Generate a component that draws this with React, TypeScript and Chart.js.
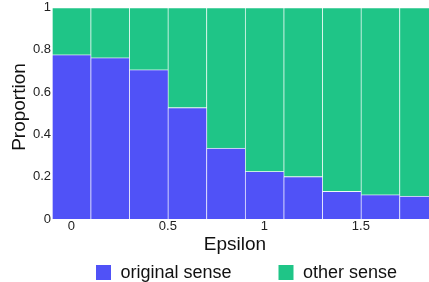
import React, { useEffect, useRef } from "react";
import { Chart, registerables } from "chart.js";

Chart.register(...registerables);

const epsilonValues = [0, 0.2, 0.4, 0.6, 0.8, 1.0, 1.2, 1.4, 1.6, 1.8];
const originalSense = [0.777, 0.763, 0.706, 0.527, 0.335, 0.225, 0.201, 0.131, 0.115, 0.108];
const otherSense = [0.223, 0.237, 0.294, 0.473, 0.665, 0.775, 0.799, 0.869, 0.885, 0.892];
const seriesLabels = ["original sense", "other sense"];
const seriesColors = ["#5052F7", "#1FC587"];
const xTitle = "Epsilon";
const yTitle = "Proportion";

const FONT = "'Liberation Sans', Arial, Helvetica, sans-serif";

const titlesAndLegend = {
  id: "titlesAndLegend",
  afterDraw(chart: any) {
    const ctx = chart.ctx;
    ctx.save();
    ctx.fillStyle = "#111";
    ctx.font = `19px ${FONT}`;
    ctx.textAlign = "center";
    ctx.textBaseline = "alphabetic";
    ctx.fillText(xTitle, 235, 249.5);
    ctx.save();
    ctx.translate(24.5, 107);
    ctx.rotate(-Math.PI / 2);
    ctx.fillText(yTitle, 0, 0);
    ctx.restore();

    const legendX = [96, 278.5];
    ctx.font = `18px ${FONT}`;
    ctx.textAlign = "left";
    chart.data.datasets.forEach((ds: any, i: number) => {
      ctx.fillStyle = ds.backgroundColor;
      ctx.fillRect(legendX[i], 265, 15, 15);
      ctx.fillStyle = "#111";
      ctx.fillText(ds.label, legendX[i] + 24.5, 277.5);
    });
    ctx.restore();
  },
};

const fmt = (v: any) => String(Math.round(Number(v) * 10) / 10);

export default function App() {
  const canvasRef = useRef<HTMLCanvasElement | null>(null);

  useEffect(() => {
    if (!canvasRef.current) return;
    const border = { top: 1, left: 1, right: 0, bottom: 0 };
    const chart = new Chart(canvasRef.current, {
      type: "bar",
      data: {
        datasets: [
          {
            label: seriesLabels[0],
            data: epsilonValues.map((x, i) => ({ x, y: originalSense[i] })),
            backgroundColor: seriesColors[0],
            borderColor: "rgba(255,255,255,0.3)",
            borderWidth: border,
            borderSkipped: false,
            barPercentage: 1,
            categoryPercentage: 1,
          },
          {
            label: seriesLabels[1],
            data: epsilonValues.map((x, i) => ({ x, y: otherSense[i] })),
            backgroundColor: seriesColors[1],
            borderColor: "rgba(255,255,255,0.3)",
            borderWidth: border,
            borderSkipped: false,
            barPercentage: 1,
            categoryPercentage: 1,
          },
        ],
      },
      options: {
        animation: false,
        responsive: true,
        maintainAspectRatio: false,
        layout: { padding: { top: 7, left: 0, right: 0, bottom: 0 } },
        plugins: {
          legend: { display: false },
          tooltip: { enabled: false },
        },
        scales: {
          x: {
            type: "linear",
            stacked: true,
            offset: false,
            min: -0.1,
            max: 1.853,
            grid: { display: false, drawTicks: false, offset: false },
            border: { display: false },
            ticks: {
              stepSize: 0.5,
              includeBounds: false,
              padding: 1,
              color: "#222",
              font: { family: FONT, size: 13, lineHeight: 1 },
              maxRotation: 0,
              callback: (v: any) => fmt(v),
            },
            afterFit(scale: any) {
              scale.height = 63;
            },
          },
          y: {
            stacked: true,
            min: 0,
            max: 1,
            grid: { display: false, drawTicks: false },
            border: { display: false },
            ticks: {
              stepSize: 0.2,
              padding: 1,
              color: "#222",
              font: { family: FONT, size: 13, lineHeight: 1 },
              callback: (v: any) => fmt(v),
            },
            afterFit(scale: any) {
              scale.width = 52;
            },
          },
        },
      },
      plugins: [titlesAndLegend],
    });
    return () => chart.destroy();
  }, []);

  return (
    <div style={{ position: "absolute", left: 0, top: 0, width: 429, height: 282, background: "#fff" }}>
      <canvas ref={canvasRef} />
    </div>
  );
}
